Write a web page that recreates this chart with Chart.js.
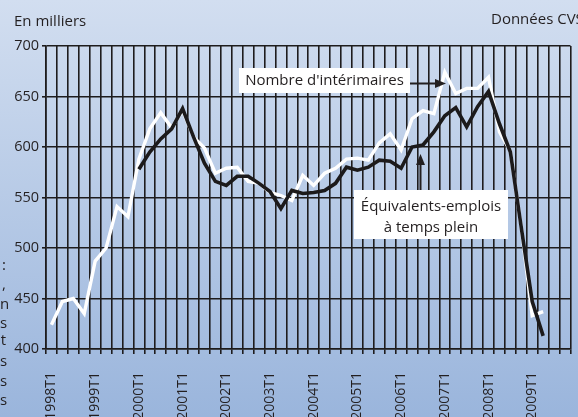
<!DOCTYPE html>
<html>
<head>
<meta charset="utf-8">
<script src="https://cdn.jsdelivr.net/npm/chart.js@4/dist/chart.umd.min.js"></script>
<style>
html,body{margin:0;padding:0;overflow:hidden;background:#fff;}
#wrap{position:relative;width:578px;height:417px;overflow:hidden;background:linear-gradient(#d2def0,#9ab5dc);}
#c{position:absolute;left:0;top:0;}
.frag{position:absolute;left:0;width:6px;text-align:right;white-space:nowrap;font:15px 'Open Sans';color:#231f20;line-height:18px;}
</style>
</head>
<body>
<div id="wrap">
<canvas id="c" width="600" height="417" style="width:600px;height:417px"></canvas>
<div class="frag" style="top:255px">:</div>
<div class="frag" style="top:274px">,</div>
<div class="frag" style="top:294px">n</div>
<div class="frag" style="top:313px">s</div>
<div class="frag" style="top:330px">t</div>
<div class="frag" style="top:351px">s</div>
<div class="frag" style="top:371px">s</div>
<div class="frag" style="top:390px">s</div>
</div>
<script>
// ---- data ----
const years = [1998,1999,2000,2001,2002,2003,2004,2005,2006,2007,2008,2009];
const quarters = ['T1','T2','T3','T4'];
const categories = years.flatMap(y => quarters.map(q => y + q));
const tickLabels = years.map(y => y + 'T1');
const yTicks = [400,450,500,550,600,650,700];

// Nombre d'intérimaires (1998T1 .. 2009T2)
const interimaires = [
  424,447,450,435, 487,500,541,531, 588,618,634,619, 636,610,599,574,
  579,580,566,564, 555,552,547,572, 562,574,579,588, 589,587,604,613,
  597,628,636,633, 674,653,658,658, 669,615,596,520, 433,437
];
// Équivalents-emplois à temps plein (2000T1 .. 2009T2)
const etp = [
  null,null,null,null, null,null,null,null,
  578,595,608,618, 638,610,584,566,
  562,571,571,564, 556,539,557,554, 555,557,564,580, 577,580,587,586,
  579,600,602,615, 631,639,620,640, 655,623,595,520, 447,413
];

const FONT = "'Open Sans', 'Noto Sans', sans-serif";
const INK = '#231f20';
const GRID = '#1e1c1d';

const annotations = {
  id: 'annotations',
  afterDraw(chart) {
    const ctx = chart.ctx;
    ctx.save();
    ctx.fillStyle = INK;
    ctx.font = '15px ' + FONT;
    ctx.textBaseline = 'middle';
    ctx.textAlign = 'left';
    ctx.fillText('En milliers', 14, 22);
    ctx.fillText('Données CVS', 491, 20);

    // box 1
    ctx.fillStyle = '#ffffff';
    ctx.fillRect(239, 68, 171, 25);
    ctx.fillStyle = INK;
    ctx.textAlign = 'center';
    ctx.fillText("Nombre d'intérimaires", 324.5, 80.5);
    // arrow 1
    ctx.strokeStyle = INK;
    ctx.lineWidth = 2;
    ctx.beginPath(); ctx.moveTo(410, 83.5); ctx.lineTo(437, 83.5); ctx.stroke();
    ctx.beginPath(); ctx.moveTo(446, 83.5); ctx.lineTo(435, 79); ctx.lineTo(435, 88); ctx.closePath(); ctx.fill();

    // box 2
    ctx.fillStyle = '#ffffff';
    ctx.fillRect(354, 190, 154, 49);
    ctx.fillStyle = INK;
    ctx.fillText('Équivalents-emplois', 431, 207);
    ctx.fillText('à temps plein', 431, 228);
    // arrow 2
    ctx.beginPath(); ctx.moveTo(420.5, 190); ctx.lineTo(420.5, 162); ctx.stroke();
    ctx.beginPath(); ctx.moveTo(420.5, 154); ctx.lineTo(416, 165); ctx.lineTo(425, 165); ctx.closePath(); ctx.fill();
    ctx.restore();
  }
};

new Chart(document.getElementById('c'), {
  type: 'line',
  data: {
    labels: categories,
    datasets: [
      { label: 'Équivalents-emplois à temps plein', data: etp, borderColor: '#1c1a1b', borderWidth: 3.6, pointRadius: 0, tension: 0, spanGaps: false },
      { label: "Nombre d'intérimaires", data: interimaires, borderColor: '#ffffff', borderWidth: 3.4, pointRadius: 0, tension: 0 }
    ]
  },
  options: {
    responsive: false,
    animation: false,
    events: [],
    layout: { padding: { top: 46, right: 19, left: 0, bottom: 0 } },
    plugins: { legend: { display: false }, tooltip: { enabled: false }, title: { display: false } },
    scales: {
      x: {
        type: 'category',
        offset: true,
        grid: { offset: true, color: GRID, lineWidth: 1.6, tickLength: 5, tickColor: GRID },
        border: { color: GRID, width: 1.6 },
        ticks: {
          autoSkip: false, maxRotation: 90, minRotation: 90, padding: 18,
          color: INK, font: { family: FONT, size: 14 },
          callback: function(v, i) { const c = categories[i]; return tickLabels.includes(c) ? c : ''; }
        },
        afterFit: s => { s.height = 68; }
      },
      y: {
        min: 400, max: 700,
        grid: { color: GRID, lineWidth: 1.6, tickLength: 4, tickColor: GRID },
        border: { color: GRID, width: 1.6 },
        ticks: {
          stepSize: 50, padding: 3, color: INK, font: { family: FONT, size: 14.5 },
          callback: v => yTicks.includes(v) ? String(v) : ''
        },
        afterFit: s => { s.width = 46; }
      }
    }
  },
  plugins: [annotations]
});
</script>
</body>
</html>
